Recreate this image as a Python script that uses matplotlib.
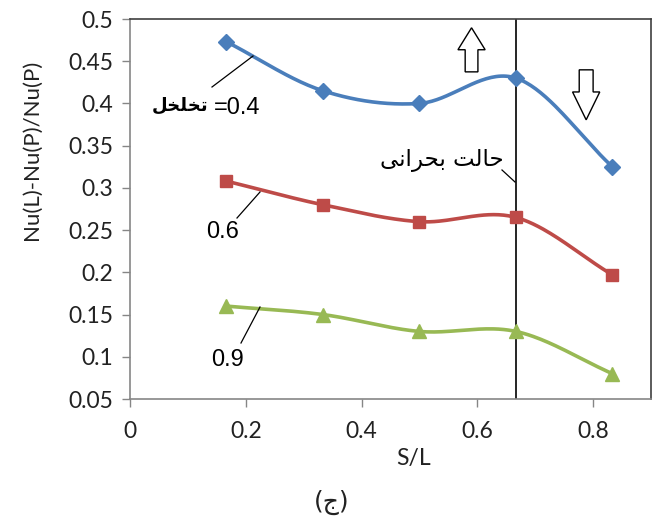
import matplotlib
matplotlib.use("Agg")
import matplotlib.pyplot as plt
import numpy as np
from matplotlib.lines import Line2D
from matplotlib.patches import FancyArrow

W, H = 659, 520

# S/L positions and relative Nusselt difference for three porosities
s_over_l = [1 / 6, 2 / 6, 3 / 6, 4 / 6, 5 / 6]
nu_por_04 = [0.473, 0.415, 0.400, 0.430, 0.325]
nu_por_06 = [0.308, 0.280, 0.260, 0.265, 0.197]
nu_por_09 = [0.160, 0.150, 0.130, 0.130, 0.080]
critical_sl = 2 / 3

x_ticks = [0, 0.2, 0.4, 0.6, 0.8]
x_tick_labels = ["0", "0.2", "0.4", "0.6", "0.8"]
y_ticks = [0.05, 0.1, 0.15, 0.2, 0.25, 0.3, 0.35, 0.4, 0.45, 0.5]
y_tick_labels = ["0.05", "0.1", "0.15", "0.2", "0.25", "0.3", "0.35", "0.4", "0.45", "0.5"]

# Persian strings in presentation forms (visual order)
label_porosity = "\uFEDE\uFEA8\uFEE0\uFEA8\uFE97"
label_critical = "\uFBFD\uFEE7\uFE8D\uFEAE\uFEA4\uFE91 \uFE96\uFEDF\uFE8E\uFEA3"
label_caption = "(\uFE9D)"


def smooth(x, y, n=40):
    # Catmull-Rom curve through the points, like a spreadsheet "smoothed line"
    x = np.asarray(x, float)
    y = np.asarray(y, float)
    px = np.concatenate([[2 * x[0] - x[1]], x, [2 * x[-1] - x[-2]]])
    py = np.concatenate([[2 * y[0] - y[1]], y, [2 * y[-1] - y[-2]]])
    xs, ys = [], []
    t = np.linspace(0, 1, n)
    for i in range(1, len(px) - 2):
        for p, out in ((px, xs), (py, ys)):
            p0, p1, p2, p3 = p[i - 1], p[i], p[i + 1], p[i + 2]
            out.append(0.5 * (2 * p1 + (-p0 + p2) * t
                              + (2 * p0 - 5 * p1 + 4 * p2 - p3) * t ** 2
                              + (-p0 + 3 * p1 - 3 * p2 + p3) * t ** 3))
    return np.concatenate(xs), np.concatenate(ys)


def px(x, y):
    return x / W, 1 - y / H


def leader(x0, y0, x1, y1):
    fig.add_artist(Line2D([x0 / W, x1 / W], [1 - y0 / H, 1 - y1 / H],
                          color="black", lw=0.9, transform=fig.transFigure))


fig = plt.figure(figsize=(W / 100, H / 100), dpi=100)
ax = fig.add_axes([130 / W, (H - 399) / H, (651 - 130) / W, (399 - 19) / H])

series = [
    (nu_por_04, "#4A7EBB", "D", 8),
    (nu_por_06, "#BE4B48", "s", 8.5),
    (nu_por_09, "#98B954", "^", 10),
]
for vals, color, marker, ms in series:
    sx, sy = smooth(s_over_l, vals)
    ax.plot(sx, sy, color=color, lw=2.6, solid_capstyle="round", zorder=3)
    ax.plot(s_over_l, vals, linestyle="none", marker=marker, ms=ms,
            color=color, zorder=4)

ax.axvline(critical_sl, color="black", lw=1.2, zorder=2)

ax.set_xlim(0, 0.9)
ax.set_ylim(0.05, 0.5)
ax.set_xticks(x_ticks)
ax.set_xticklabels(x_tick_labels)
ax.set_yticks(y_ticks)
ax.set_yticklabels(y_tick_labels)
for lab in ax.get_xticklabels() + ax.get_yticklabels():
    lab.set_fontfamily("Lato")
    lab.set_fontsize(16.5)
    lab.set_color("#222222")
ax.tick_params(axis="both", direction="out", length=6, width=1, color="#868686")
ax.tick_params(axis="x", pad=10)
ax.tick_params(axis="y", pad=6)

for side in ("left", "bottom"):
    ax.spines[side].set_color("#868686")
    ax.spines[side].set_linewidth(1.2)
for side in ("top", "right"):
    ax.spines[side].set_color("#404040")
    ax.spines[side].set_linewidth(1.2)

fig.text(*px(32, 150), "Nu(L)-Nu(P)/Nu(P)", rotation=90, ha="center", va="center",
         fontsize=16, family="Lato", color="#222222")
fig.text(*px(414, 458), "S/L", ha="center", va="center", fontsize=16.5,
         family="Lato", color="#222222")
fig.text(*px(332, 502), label_caption, ha="center", va="center", fontsize=18,
         family="DejaVu Sans", color="#222222")

# porosity labels with leader lines
fig.text(*px(208, 106), label_porosity, ha="right", va="center", fontsize=13,
         family="DejaVu Sans", weight="bold", color="black")
fig.text(*px(214, 108), "=0.4", ha="left", va="center", fontsize=17,
         family="Liberation Sans", color="black")
leader(212, 87, 253, 56)
fig.text(*px(223, 232), "0.6", ha="center", va="center", fontsize=17,
         family="Liberation Sans", color="black")
leader(237, 218, 260, 192)
fig.text(*px(228, 360), "0.9", ha="center", va="center", fontsize=17,
         family="Liberation Sans", color="black")
leader(241, 343, 260, 307)

fig.text(*px(442, 160), label_critical, ha="center", va="center", fontsize=16.5,
         family="DejaVu Sans", color="black")
leader(502, 170, 515, 182)

# hollow block arrows: rising before the critical point, falling after it
up = FancyArrow(0.59, 0.4374, 0, 0.0522, width=0.022, head_width=0.047,
                head_length=0.026, length_includes_head=True,
                facecolor="white", edgecolor="black", lw=1.0, zorder=5)
down = FancyArrow(0.788, 0.4398, 0, -0.0592, width=0.024, head_width=0.047,
                  head_length=0.033, length_includes_head=True,
                  facecolor="white", edgecolor="black", lw=1.0, zorder=5)
ax.add_patch(up)
ax.add_patch(down)

fig.savefig("out.png", dpi=100)
